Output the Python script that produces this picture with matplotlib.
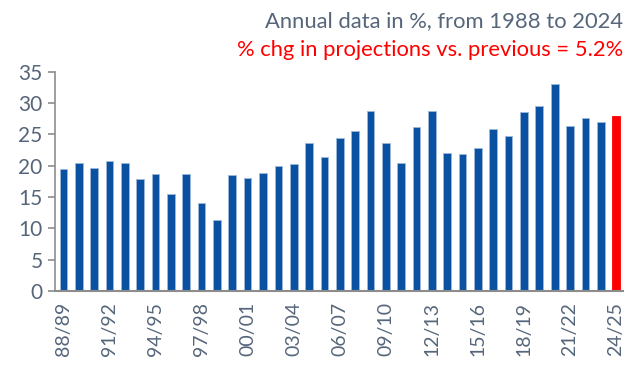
import numpy as np
import matplotlib.pyplot as plt

plt.rcParams['font.family'] = ['Lato', 'DejaVu Sans']

seasons = ['88/89', '89/90', '90/91', '91/92', '92/93', '93/94', '94/95', '95/96',
           '96/97', '97/98', '98/99', '99/00', '00/01', '01/02', '02/03', '03/04',
           '04/05', '05/06', '06/07', '07/08', '08/09', '09/10', '10/11', '11/12',
           '12/13', '13/14', '14/15', '15/16', '16/17', '17/18', '18/19', '19/20',
           '20/21', '21/22', '22/23', '23/24', '24/25']
values = [19.5, 20.4, 19.7, 20.7, 20.4, 17.8, 18.7, 15.5, 18.7, 14.0, 11.4, 18.5,
          18.0, 18.9, 19.9, 20.2, 23.6, 21.4, 24.4, 25.6, 28.8, 23.7, 20.4, 26.1,
          28.8, 22.0, 21.8, 22.9, 25.9, 24.8, 28.6, 29.5, 33.0, 26.3, 27.6, 27.0,
          27.9]
title_line1 = 'Annual data in %, from 1988 to 2024'
title_line2 = '% chg in projections vs. previous = 5.2%'

blue = '#0A52A1'
red = '#FF0000'
grey_txt = '#56667A'
grey_axis = '#8C8C8C'

fig = plt.figure(figsize=(6.27, 3.65), dpi=100)
ax = fig.add_axes([55 / 627, 1 - 291 / 365, (623 - 55) / 627, (291 - 71.7) / 365])

x = np.arange(len(values))
colors = [blue] * (len(values) - 1) + [red]
edges = ['#9DB8D9'] * (len(values) - 1) + [red]
ax.bar(x, values, width=0.5, color=colors, edgecolor=edges, linewidth=0.6)

ax.set_xlim(-0.55, len(values) - 0.55)
ax.set_ylim(0, 35)
ax.set_yticks(range(0, 36, 5))
ax.set_xticks(x[::3])
ax.set_xticklabels(seasons[::3], rotation=90)

for side in ['top', 'right']:
    ax.spines[side].set_visible(False)
ax.spines['left'].set_color(grey_axis)
ax.spines['bottom'].set_color(grey_axis)
ax.spines['left'].set_linewidth(1.2)
ax.spines['bottom'].set_linewidth(1.5)

ax.tick_params(axis='y', colors=grey_axis, labelcolor=grey_txt, labelsize=15,
               length=5, width=1.2, pad=4)
ax.tick_params(axis='x', length=0, labelcolor=grey_txt, labelsize=14, pad=8)

fig.text(623 / 627, 1 - 27 / 365, title_line1, ha='right', va='baseline',
         fontsize=15.8, color=grey_txt)
fig.text(623 / 627, 1 - 56 / 365, title_line2, ha='right', va='baseline',
         fontsize=15.8, color=red)

fig.savefig('out.png', dpi=100)
